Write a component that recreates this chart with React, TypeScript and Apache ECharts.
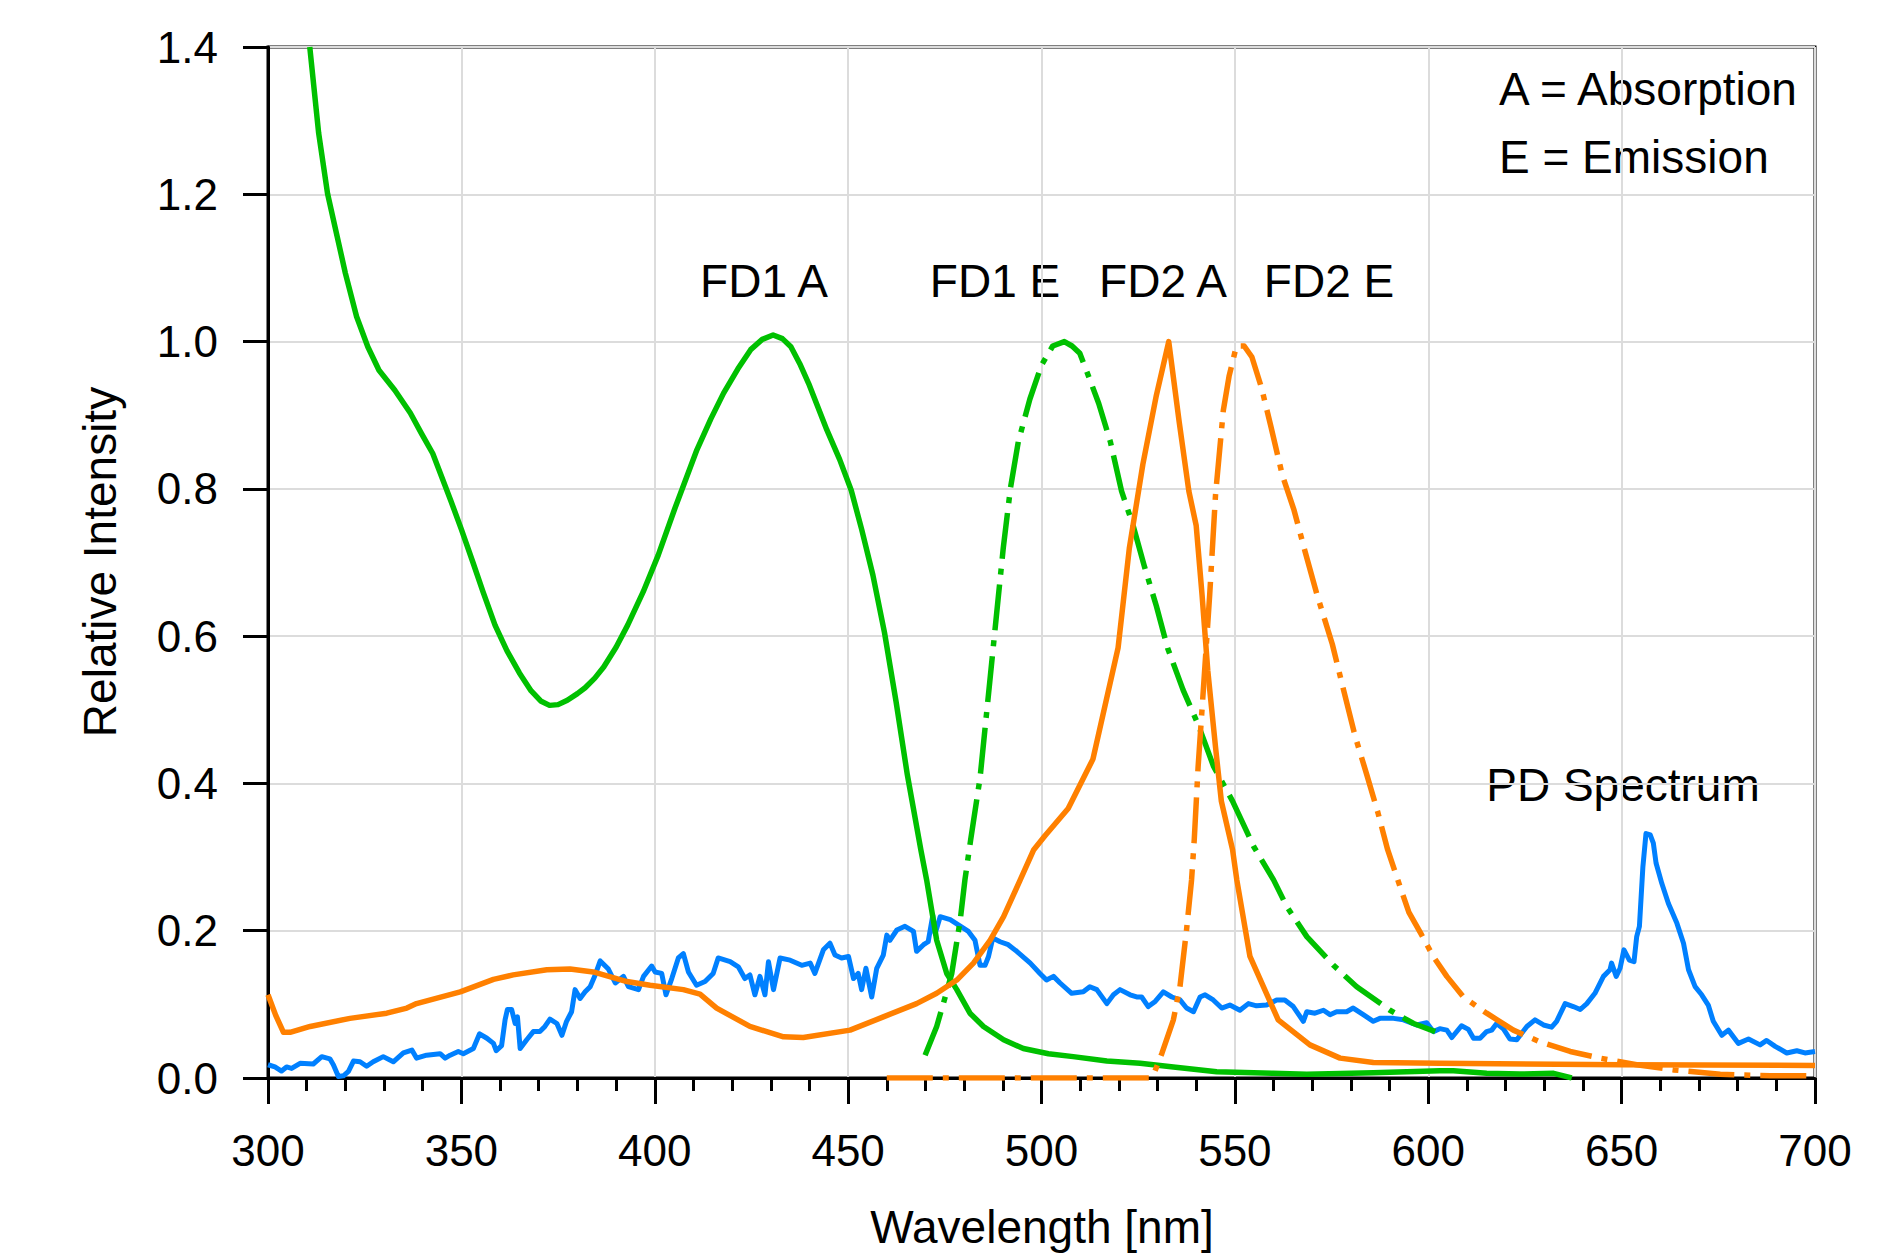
import React, { useEffect, useRef } from "react";
import * as echarts from "echarts";

const FONT = '"Liberation Sans", Arial, Helvetica, sans-serif';

const xMin = 300;
const xMax = 700;
const xInterval = 50;
const yMin = 0;
const yMax = 1.4;
const yInterval = 0.2;

const xAxisTitle = "Wavelength [nm]";
const yAxisTitle = "Relative Intensity";

// PD spectrum (blue), [wavelength nm, relative intensity]
const pdSpectrum: [number, number][] = [
  [300, 0.018], [301.8, 0.015], [303.5, 0.0095], [304.8, 0.015], [306.1, 0.013], [308.3, 0.02],
  [311.7, 0.019], [313.9, 0.029], [316, 0.026], [316.9, 0.018], [318.2, 0.002], [319.5, 0.003],
  [320.8, 0.009], [322.1, 0.023], [323.8, 0.022], [325.5, 0.016], [327.2, 0.022], [329.8, 0.029],
  [332.4, 0.022], [335, 0.034], [337.2, 0.038], [338.4, 0.027], [341, 0.031], [344.5, 0.033],
  [345.8, 0.027], [347.1, 0.031], [349.2, 0.036], [350.5, 0.033], [353.1, 0.04], [354.7, 0.06],
  [356.6, 0.054], [358.3, 0.047], [359, 0.037], [360.4, 0.044], [361.3, 0.079], [361.9, 0.093],
  [363, 0.093], [363.9, 0.074], [364.5, 0.083], [365.2, 0.04], [366.9, 0.052], [368.6, 0.063],
  [370.3, 0.063], [371.6, 0.07], [372.9, 0.08], [374.7, 0.074], [376, 0.058], [377.2, 0.077],
  [378.5, 0.09], [379.4, 0.12], [380.7, 0.108], [382, 0.117], [383.3, 0.124], [384.6, 0.14],
  [385.9, 0.159], [388, 0.148], [389.8, 0.129], [391.9, 0.138], [393.2, 0.124], [395.8, 0.12],
  [397.1, 0.138], [399.2, 0.152], [400.1, 0.144], [401.8, 0.142], [402.9, 0.113], [404.4, 0.135],
  [406.1, 0.163], [407.4, 0.169], [408.7, 0.144], [410.8, 0.126], [413, 0.131], [415.1, 0.142],
  [416.4, 0.163], [419.5, 0.158], [421.6, 0.151], [423.3, 0.135], [424.6, 0.14], [425.9, 0.113],
  [427.2, 0.138], [428.5, 0.113], [429.4, 0.158], [430.7, 0.12], [432.4, 0.163], [435, 0.16],
  [438, 0.153], [440.2, 0.156], [441.4, 0.142], [443.6, 0.174], [445.3, 0.183], [446.6, 0.167],
  [448.3, 0.163], [450.1, 0.165], [451.4, 0.135], [452.6, 0.142], [453.5, 0.12], [454.6, 0.149],
  [456.1, 0.11], [457.4, 0.149], [459.1, 0.167], [460, 0.194], [460.8, 0.187], [462.6, 0.201],
  [464.7, 0.206], [466.9, 0.199], [467.7, 0.172], [469.5, 0.181], [470.7, 0.185], [471.9, 0.221],
  [472.5, 0.196], [473.8, 0.219], [476.4, 0.215], [478.5, 0.208], [481.1, 0.199], [482.8, 0.187],
  [484.1, 0.153], [485.4, 0.153], [486.3, 0.165], [487.4, 0.19], [489.3, 0.185], [491.4, 0.181],
  [493.6, 0.172], [497.1, 0.156], [499.6, 0.142], [501.3, 0.133], [503.1, 0.138], [504.8, 0.129],
  [507.8, 0.115], [510.8, 0.117], [512.5, 0.124], [514.3, 0.12], [516.9, 0.101], [518.6, 0.113],
  [520.3, 0.12], [522.9, 0.113], [524.6, 0.11], [525.9, 0.11], [527.6, 0.097], [529.4, 0.104],
  [531.5, 0.117], [533.7, 0.11], [535.8, 0.106], [537.5, 0.095], [539.3, 0.09], [541, 0.11],
  [542.3, 0.113], [544.4, 0.106], [546.6, 0.095], [548.7, 0.099], [551.3, 0.092], [553.5, 0.101],
  [555.6, 0.098], [558.2, 0.099], [560.8, 0.106], [562.9, 0.106], [565.1, 0.097], [567.7, 0.077],
  [568.6, 0.09], [570.7, 0.088], [572.9, 0.092], [574.6, 0.086], [576.3, 0.09], [578.9, 0.09],
  [580.6, 0.095], [583.2, 0.086], [585.8, 0.077], [587.5, 0.081], [591, 0.081], [593.6, 0.079],
  [597, 0.072], [599.6, 0.075], [601.3, 0.063], [603, 0.067], [604.8, 0.065], [606.1, 0.055],
  [608.6, 0.071], [610.4, 0.066], [611.7, 0.054], [613.4, 0.054], [615.1, 0.063], [616.4, 0.065],
  [617.7, 0.074], [619.4, 0.067], [621.1, 0.053], [622.9, 0.052], [624.2, 0.061], [625.5, 0.07],
  [627.6, 0.079], [629.8, 0.072], [631.9, 0.069], [633.2, 0.077], [635.4, 0.101], [637.5, 0.097],
  [639.3, 0.093], [641, 0.101], [643.1, 0.115], [645.3, 0.138], [647, 0.147], [647.4, 0.156],
  [648.6, 0.138], [649.6, 0.149], [650.6, 0.174], [652, 0.16], [653.2, 0.158], [653.9, 0.192],
  [654.6, 0.206], [655.5, 0.287], [656.3, 0.332], [657.4, 0.33], [658.2, 0.319], [658.9, 0.292],
  [660.4, 0.264], [662.1, 0.237], [664.3, 0.21], [666, 0.183], [667.3, 0.147], [669, 0.124],
  [670.7, 0.113], [672.4, 0.099], [673.7, 0.077], [675.9, 0.058], [677.6, 0.065], [680.2, 0.047],
  [682.8, 0.053], [685.8, 0.045], [687.5, 0.051], [689.7, 0.043], [692.7, 0.034], [695.3, 0.037],
  [697.4, 0.034], [700, 0.036],
];

// FD1 absorption (green solid)
const fd1Absorption: [number, number][] = [
  [310.8, 1.4], [313.1, 1.283], [315.4, 1.201], [317.7, 1.147], [320, 1.093], [322.9, 1.034],
  [325.8, 0.993], [328.7, 0.961], [332.8, 0.934], [336.8, 0.903], [339.7, 0.875], [342.6, 0.848],
  [347.2, 0.785], [350, 0.745], [353, 0.7], [355.6, 0.66], [358.7, 0.615], [361.8, 0.58],
  [365, 0.55], [368, 0.526], [370.5, 0.512], [372.8, 0.506], [375, 0.507], [377.4, 0.513],
  [380, 0.522], [382, 0.53], [384.5, 0.543], [386.8, 0.558], [390, 0.585], [393, 0.615],
  [397, 0.66], [400.9, 0.71], [405.1, 0.772], [410.9, 0.853], [414.5, 0.895], [417.8, 0.93],
  [421.5, 0.963], [424.8, 0.989], [427.8, 1.003], [430.6, 1.009], [433, 1.004], [435.2, 0.993],
  [437.5, 0.97], [439.8, 0.943], [444.5, 0.88], [447.8, 0.84], [450.8, 0.798], [453.5, 0.745],
  [456.4, 0.683], [459.4, 0.605], [462.4, 0.511], [465.3, 0.412], [468.8, 0.31], [470.3, 0.269],
  [472.9, 0.187], [475.5, 0.142], [478.1, 0.12], [481.5, 0.088], [485, 0.07], [490.2, 0.052],
  [495.3, 0.04], [501.8, 0.033], [508.2, 0.029], [516.9, 0.023], [525.5, 0.02], [534.1, 0.015],
  [545.3, 0.0086], [559.9, 0.0063], [568.6, 0.005], [577.2, 0.006], [585.8, 0.007], [594.4, 0.0086],
  [603, 0.01], [606.5, 0.01], [615.1, 0.0063], [623.7, 0.0054], [632.4, 0.0063], [635.8, 0.0018],
  [637.1, 0],
];

// FD1 emission (green dash-dot)
const fd1Emission: [number, number][] = [
  [469.9, 0.031], [472.9, 0.07], [475.1, 0.11], [476.8, 0.142], [479, 0.215], [480.2, 0.269],
  [481.7, 0.324], [484.1, 0.407], [486.1, 0.511], [488.1, 0.615], [490.1, 0.719], [492, 0.802],
  [494, 0.864], [497, 0.922], [500, 0.968], [502.9, 0.994], [505.9, 1.0], [507.9, 0.994],
  [509.9, 0.984], [511.8, 0.958], [514.8, 0.916], [517.8, 0.864], [520.7, 0.797], [523.7, 0.75],
  [526.7, 0.693], [529.7, 0.641], [532.6, 0.584], [536.6, 0.527], [540.5, 0.48], [544.5, 0.423],
  [549.4, 0.376], [554.9, 0.314], [560, 0.269], [563.4, 0.233], [568.6, 0.192], [575.5, 0.153],
  [581.5, 0.124], [590.1, 0.092], [596.2, 0.074], [601.8, 0.063],
];

// FD2 absorption (orange solid)
const fd2Absorption: [number, number][] = [
  [300, 0.113], [302, 0.085], [304, 0.062], [305.7, 0.062], [310.9, 0.07], [321.2, 0.081],
  [330.7, 0.088], [335.9, 0.095], [338.4, 0.101], [349.7, 0.117], [358.3, 0.134], [363.4, 0.14],
  [372.1, 0.147], [378.1, 0.148], [384.1, 0.144], [392.8, 0.131], [398.8, 0.126], [407.4, 0.12],
  [411.7, 0.114], [416, 0.095], [424.6, 0.07], [433.3, 0.056], [438.4, 0.055], [450.5, 0.065],
  [459.1, 0.083], [467.7, 0.101], [472.9, 0.115], [478.1, 0.133], [482.4, 0.156], [486.7, 0.187],
  [490.2, 0.219], [494.5, 0.269], [498, 0.31], [500.9, 0.329], [506.9, 0.366], [513.3, 0.433],
  [519.8, 0.584], [522.7, 0.719], [526.2, 0.833], [529.7, 0.927], [532.9, 1.0], [535.6, 0.891],
  [538.1, 0.797], [540, 0.75], [541.5, 0.657], [543, 0.553], [545, 0.449], [546.5, 0.376],
  [549.4, 0.31], [550.5, 0.269], [553.9, 0.165], [561.2, 0.079], [569.4, 0.045], [577.2, 0.027],
  [585.8, 0.021], [603, 0.02], [650, 0.018], [700, 0.017],
];

// FD2 emission (orange dash-dot)
const fd2Emission: [number, number][] = [
  [460, 0], [528, 0], [529.3, 0.009], [531.1, 0.033], [534.1, 0.079], [535.8, 0.124],
  [537.5, 0.201], [538.8, 0.269], [539.5, 0.324], [540.5, 0.423], [541.5, 0.5], [543.5, 0.657],
  [545, 0.792], [547, 0.906], [548.5, 0.953], [550.4, 0.994], [552.4, 0.994], [554.4, 0.979],
  [556.9, 0.937], [559.3, 0.885], [562.3, 0.818], [565.3, 0.771], [568.2, 0.714], [571.2, 0.657],
  [575.2, 0.589], [578.1, 0.527], [581.1, 0.464], [584.1, 0.412], [587, 0.36], [589.5, 0.31],
  [592.7, 0.26], [595, 0.225], [598, 0.197], [601.3, 0.165], [604.8, 0.138], [609.1, 0.11],
  [615.1, 0.088], [622, 0.065], [628.9, 0.049], [636.7, 0.036], [644.4, 0.027], [653.9, 0.018],
  [663.4, 0.011], [675.5, 0.005], [688.4, 0.003], [700, 0.003],
];

const curveLabels = ["FD1 A", "FD1 E", "FD2 A", "FD2 E", "PD Spectrum"];
const legendNotes = ["A = Absorption", "E = Emission"];

const GREEN = "#00c000";
const ORANGE = "#ff8000";
const BLUE = "#0080ff";
const DASH_DOT = [46, 10, 6, 10];

export default function App() {
  const ref = useRef<HTMLDivElement>(null);

  useEffect(() => {
    if (!ref.current) return;
    const chart = echarts.init(ref.current, null, { renderer: "svg" });

    const textStyle = (text: string, align: string, vAlign: string) => ({
      text,
      fontSize: 46,
      fontFamily: FONT,
      fill: "#000",
      align,
      verticalAlign: vAlign,
    });

    const lineSeries = (name: string, data: [number, number][], color: string, dashed: boolean, width = 5.5) => ({
      name,
      type: "line",
      data,
      showSymbol: false,
      symbol: "none",
      clip: true,
      lineStyle: { color, width, type: dashed ? DASH_DOT : "solid", cap: "butt", join: "round" },
      emphasis: { disabled: true },
    });

    const option: any = {
      animation: false,
      backgroundColor: "#ffffff",
      textStyle: { fontFamily: FONT },
      grid: {
        left: 268,
        right: 78,
        top: 47,
        bottom: 182,
        show: true,
        borderColor: "#000",
        borderWidth: 3,
        backgroundColor: "transparent",
        containLabel: false,
      },
      xAxis: {
        type: "value",
        min: xMin,
        max: xMax,
        interval: xInterval,
        axisLine: { show: true, onZero: false, lineStyle: { color: "#000", width: 3 } },
        axisTick: { show: true, inside: false, length: 26, lineStyle: { color: "#000", width: 3 } },
        minorTick: { show: true, splitNumber: 5, length: 13, lineStyle: { color: "#000", width: 3 } },
        axisLabel: { fontSize: 44, color: "#000", margin: 50, fontFamily: FONT },
        splitLine: { show: true, lineStyle: { color: "#dcdcdc", width: 2 } },
        minorSplitLine: { show: false },
      },
      yAxis: {
        type: "value",
        min: yMin,
        max: yMax,
        interval: yInterval,
        axisLine: { show: true, onZero: false, lineStyle: { color: "#000", width: 3 } },
        axisTick: { show: true, inside: false, length: 25, lineStyle: { color: "#000", width: 3 } },
        axisLabel: {
          fontSize: 44,
          color: "#000",
          margin: 50,
          fontFamily: FONT,
          formatter: (v: number) => v.toFixed(1),
        },
        splitLine: { show: true, lineStyle: { color: "#dcdcdc", width: 2 } },
      },
      series: [
        lineSeries("PD Spectrum", pdSpectrum, BLUE, false, 5),
        lineSeries("FD1 A", fd1Absorption, GREEN, false),
        lineSeries("FD1 E", fd1Emission, GREEN, true),
        lineSeries("FD2 A", fd2Absorption, ORANGE, false),
        lineSeries("FD2 E", fd2Emission, ORANGE, true),
      ],
      graphic: [
        { type: "text", x: 764, y: 281, style: textStyle(curveLabels[0], "center", "middle") },
        { type: "text", x: 995, y: 281, style: textStyle(curveLabels[1], "center", "middle") },
        { type: "text", x: 1163, y: 281, style: textStyle(curveLabels[2], "center", "middle") },
        { type: "text", x: 1329, y: 281, style: textStyle(curveLabels[3], "center", "middle") },
        { type: "text", x: 1623, y: 785, style: textStyle(curveLabels[4], "center", "middle") },
        { type: "text", x: 1499, y: 89, style: textStyle(legendNotes[0], "left", "middle") },
        { type: "text", x: 1499, y: 157, style: textStyle(legendNotes[1], "left", "middle") },
        { type: "text", x: 1042, y: 1227, style: textStyle(xAxisTitle, "center", "middle") },
        {
          type: "text",
          x: 100,
          y: 562,
          rotation: Math.PI / 2,
          style: textStyle(yAxisTitle, "center", "middle"),
        },
      ],
    };

    chart.setOption(option);
    return () => chart.dispose();
  }, []);

  return (
    <div
      ref={ref}
      style={{ position: "fixed", left: 0, top: 0, width: 1893, height: 1260, background: "#fff" }}
    />
  );
}
